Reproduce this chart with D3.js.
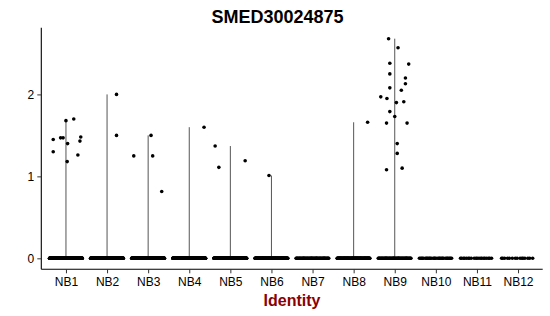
<!DOCTYPE html>
<html>
<head>
<meta charset="utf-8">
<script src="https://cdn.jsdelivr.net/npm/d3@7"></script>
<style>
  body { margin: 0; background: #fff; }
  text { font-family: "Liberation Sans", Arial, sans-serif; }
</style>
</head>
<body>
<div id="chart"></div>
<script>
// Groupes (identités)
const groups = ["NB1", "NB2", "NB3", "NB4", "NB5", "NB6", "NB7", "NB8", "NB9", "NB10", "NB11", "NB12"];

// Nombre de cellules à expression nulle par groupe (estimé)
const zeroCounts = [300, 260, 260, 300, 260, 160, 60, 120, 60, 30, 20, 15];

// Valeurs non nulles (expression) par groupe
const nb1 = [1.45, 1.30, 1.47, 1.47, 1.68, 1.40, 1.18, 1.70, 1.26, 1.43, 1.48];
const nb2 = [2.00, 1.50];
const nb3 = [1.25, 1.50, 1.25, 0.815];
const nb4 = [1.60];
const nb5 = [1.37, 1.11, 1.19];
const nb6 = [1.01];
const nb8 = [1.66];
const nb9 = [2.68, 2.57, 2.38, 2.37, 2.25, 2.20, 2.13, 2.08, 2.05, 1.97, 1.95,
             1.90, 1.91, 1.79, 1.73, 1.65, 1.65, 1.40, 1.28, 1.10, 1.08];

// Décalage horizontal (jitter) de chaque point, en unités de groupe
const nb1Jit = [-0.31, -0.31, -0.13, -0.07, 0.0, 0.04, 0.03, 0.19, 0.29, 0.34, 0.36];
const nb2Jit = [0.23, 0.23];
const nb3Jit = [-0.35, 0.07, 0.11, 0.33];
const nb4Jit = [0.36];
const nb5Jit = [-0.37, -0.28, 0.36];
const nb6Jit = [-0.06];
const nb8Jit = [0.34];
const nb9Jit = [-0.15, 0.08, -0.12, 0.34, -0.12, 0.26, 0.26, -0.12, 0.16, -0.34, -0.19,
                0.04, 0.22, -0.12, 0.0, -0.2, 0.30, 0.06, 0.06, 0.18, -0.2];

const nonZero = { NB1: [nb1, nb1Jit], NB2: [nb2, nb2Jit], NB3: [nb3, nb3Jit], NB4: [nb4, nb4Jit],
                  NB5: [nb5, nb5Jit], NB6: [nb6, nb6Jit], NB8: [nb8, nb8Jit], NB9: [nb9, nb9Jit] };

const yTicks = [0, 1, 2];

const width = 550, height = 316;
const mLeft = 41.3, mRight = 542.7, mTop = 27.7, mBottom = 269.3;

const svg = d3.select("#chart")
  .append("svg")
  .attr("width", width)
  .attr("height", height);

// Echelle x : positions 1..12, expansion 0.6 de chaque côté
const x = d3.scaleLinear().domain([0.4, groups.length + 0.6]).range([mLeft, mRight]);
const xPos = g => x(groups.indexOf(g) + 1);

const yMax = 2.68;
const y = d3.scaleLinear().domain([-0.05 * yMax, yMax * 1.05]).range([mBottom, mTop]);

// Violons (très fins : une ligne du zéro jusqu'au max)
const violins = groups.filter(g => nonZero[g]).map(g => ({ g: g, max: d3.max(nonZero[g][0]) }));
svg.selectAll("line.violin")
  .data(violins)
  .enter()
  .append("line")
  .attr("class", "violin")
  .attr("x1", d => xPos(d.g))
  .attr("x2", d => xPos(d.g))
  .attr("y1", y(0))
  .attr("y2", d => y(d.max))
  .attr("stroke", "#555")
  .attr("stroke-width", 1);

// Points à zéro (jitter régulier sur +-0.4)
const zeroPts = [];
groups.forEach((g, i) => {
  const n = zeroCounts[i];
  for (let k = 0; k < n; k++) {
    const frac = (k * 0.6180339887) % 1;
    zeroPts.push({ g: g, j: -0.4 + 0.8 * frac });
  }
});
svg.selectAll("circle.zero")
  .data(zeroPts)
  .enter()
  .append("circle")
  .attr("class", "zero")
  .attr("cx", d => x(groups.indexOf(d.g) + 1 + d.j))
  .attr("cy", y(0))
  .attr("r", 1.8)
  .attr("fill", "#000");

// Points non nuls
const pts = [];
Object.keys(nonZero).forEach(g => {
  const [vals, jit] = nonZero[g];
  vals.forEach((v, k) => pts.push({ g: g, v: v, j: jit[k] }));
});
svg.selectAll("circle.pt")
  .data(pts)
  .enter()
  .append("circle")
  .attr("class", "pt")
  .attr("cx", d => x(groups.indexOf(d.g) + 1 + d.j))
  .attr("cy", d => y(d.v))
  .attr("r", 1.8)
  .attr("fill", "#000");

// Axe Y
const yAxis = svg.append("g")
  .attr("transform", `translate(${mLeft},0)`)
  .call(d3.axisLeft(y).tickValues(yTicks).tickSize(4).tickPadding(3).tickFormat(d3.format("d")));
yAxis.select(".domain").attr("stroke", "#000").attr("stroke-width", 1.1).attr("d", `M0,${mBottom}V${mTop}`);
yAxis.selectAll(".tick line").attr("stroke", "#333");
yAxis.selectAll(".tick text").attr("font-size", "12px").attr("fill", "#000")
  .attr("font-family", "Liberation Sans, Arial, sans-serif");

// Axe X
const xAxis = svg.append("g")
  .attr("transform", `translate(0,${mBottom})`)
  .call(d3.axisBottom(x).tickValues(d3.range(1, groups.length + 1)).tickSize(4).tickPadding(4)
    .tickFormat(d => groups[d - 1]));
xAxis.select(".domain").attr("stroke", "#000").attr("stroke-width", 1.1).attr("d", `M${mLeft},0H${mRight}`);
xAxis.selectAll(".tick line").attr("stroke", "#333");
xAxis.selectAll(".tick text").attr("font-size", "12px").attr("fill", "#000")
  .attr("font-family", "Liberation Sans, Arial, sans-serif");

// Titre
svg.append("text")
  .attr("x", 277.5)
  .attr("y", 23)
  .attr("text-anchor", "middle")
  .attr("font-size", "18px")
  .attr("font-weight", "bold")
  .attr("fill", "#000")
  .text("SMED30024875");

// Titre de l'axe X
svg.append("text")
  .attr("x", (mLeft + mRight) / 2)
  .attr("y", 305.5)
  .attr("text-anchor", "middle")
  .attr("font-size", "16px")
  .attr("font-weight", "bold")
  .attr("fill", "#8B0000")
  .text("Identity");
</script>
</body>
</html>
